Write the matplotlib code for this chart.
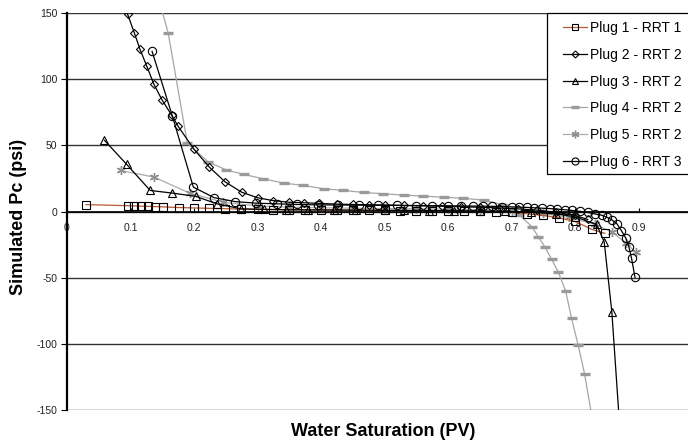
import matplotlib
matplotlib.use("Agg")
import matplotlib.pyplot as plt
from matplotlib.patches import Rectangle

plt.rcParams['font.family'] = ['Liberation Sans', 'DejaVu Sans']
plt.rcParams['axes.unicode_minus'] = False

# Water saturation (PV) and simulated capillary pressure (psi) per plug
plug1_sw = [0.030, 0.096, 0.106, 0.116, 0.127, 0.139, 0.151, 0.176, 0.200, 0.224, 0.249,
            0.274, 0.300, 0.325, 0.350, 0.375, 0.400, 0.425, 0.450, 0.475, 0.500, 0.525,
            0.550, 0.575, 0.600, 0.625, 0.650, 0.675, 0.700, 0.725, 0.750, 0.775, 0.800,
            0.827, 0.847]
plug1_pc = [5.2, 4.4, 4.2, 4.0, 3.9, 3.7, 3.5, 3.0, 2.7, 2.4, 2.1,
            1.8, 1.6, 1.5, 1.4, 1.3, 1.2, 1.1, 1.0, 0.9, 0.8, 0.7,
            0.6, 0.5, 0.4, 0.3, 0.1, -0.2, -0.7, -1.7, -3.0, -4.8, -7.5,
            -13.6, -16.5]

plug2_sw = [0.085, 0.0955, 0.106, 0.115, 0.1255, 0.137, 0.150, 0.165, 0.175, 0.200, 0.224,
            0.249, 0.275, 0.300, 0.324, 0.349, 0.374, 0.397, 0.425, 0.450, 0.475, 0.500,
            0.530, 0.560, 0.590, 0.620, 0.650, 0.680, 0.710, 0.740, 0.770, 0.800, 0.820]
plug2_pc = [163, 149, 135, 122.5, 110, 96, 84, 72.7, 64.4, 47, 33.6,
            22.4, 14.6, 10.4, 8.3, 7.0, 6.6, 6.1, 5.6, 5.3, 5.1, 4.9,
            4.6, 4.3, 4.0, 3.6, 3.2, 2.7, 2.0, 1.0, -0.5, -3.0, -6.0]

plug3_sw = [0.059, 0.094, 0.131, 0.166, 0.203, 0.236, 0.274, 0.310, 0.345, 0.380, 0.420,
            0.455, 0.500, 0.530, 0.570, 0.610, 0.650, 0.690, 0.730, 0.770, 0.800, 0.834,
            0.846, 0.858, 0.880]
plug3_pc = [53.8, 35.6, 15.9, 13.9, 11.4, 5.8, 2.0, 1.6, 1.3, 1.2, 1.1,
            1.0, 0.9, 0.8, 0.7, 0.6, 0.4, 0.1, -0.5, -1.8, -4.0, -9.8,
            -23.0, -75.7, -230.0]

plug4_sw = [0.145, 0.1595, 0.1895, 0.2225, 0.251, 0.279, 0.309, 0.341, 0.372, 0.404, 0.435,
            0.467, 0.498, 0.530, 0.561, 0.593, 0.624, 0.656, 0.687, 0.712, 0.732, 0.742,
            0.753, 0.763, 0.774, 0.7855, 0.7945, 0.805, 0.815, 0.832]
plug4_pc = [160, 134.6, 51.7, 37.4, 31.4, 28.0, 24.7, 21.5, 19.7, 17.2, 15.9,
            14.4, 13.4, 12.4, 11.6, 10.8, 10.0, 8.6, 5.0, -2.5, -11.4, -19.0,
            -27.0, -36.0, -46.0, -60.4, -80.6, -101.0, -122.5, -170.0]

plug5_sw = [0.0845, 0.137, 0.193, 0.246, 0.300, 0.350, 0.400, 0.450, 0.500, 0.550,
            0.600, 0.650, 0.700, 0.750, 0.790, 0.831, 0.859, 0.880, 0.896]
plug5_pc = [31.0, 26.0, 13.9, 7.0, 4.2, 3.3, 2.8, 2.5, 2.2, 2.0,
            1.7, 1.3, 0.5, -1.5, -4.5, -9.5, -15.6, -24.0, -30.8]

plug6_sw = [0.134, 0.166, 0.199, 0.2315, 0.2645, 0.298, 0.330, 0.362, 0.396, 0.427,
            0.460, 0.490, 0.520, 0.550, 0.575, 0.600, 0.620, 0.640, 0.655, 0.670,
            0.685, 0.700, 0.712, 0.724, 0.736, 0.748, 0.760, 0.772, 0.784, 0.796,
            0.808, 0.820, 0.831, 0.842, 0.850, 0.858, 0.866, 0.873, 0.880, 0.885,
            0.889, 0.8945]
plug6_pc = [121, 72, 18.4, 10.5, 7.5, 6.3, 5.8, 5.3, 5.0, 4.9,
            4.8, 4.7, 4.6, 4.5, 4.4, 4.3, 4.2, 4.1, 4.0, 3.9,
            3.7, 3.5, 3.3, 3.1, 2.8, 2.5, 2.2, 1.8, 1.3, 0.8,
            0.1, -0.7, -1.8, -2.8, -4.3, -6.3, -9.3, -14.4, -20.0, -27.0,
            -35.3, -49.7]

labels = ["Plug 1 - RRT 1", "Plug 2 - RRT 2", "Plug 3 - RRT 2",
          "Plug 4 - RRT 2", "Plug 5 - RRT 2", "Plug 6 - RRT 3"]
x_ticks = [0, 0.1, 0.2, 0.3, 0.4, 0.5, 0.6, 0.7, 0.8, 0.9]
x_tick_labels = ["0", "0.1", "0.2", "0.3", "0.4", "0.5", "0.6", "0.7", "0.8", "0.9"]
y_ticks = [-150, -100, -50, 0, 50, 100, 150]

W, H = 688, 447
fig = plt.figure(figsize=(W / 100, H / 100), dpi=100)
ax = fig.add_axes([67 / W, 37 / H, 635 / W, 397 / H])
ax.set_xlim(0, 1.0)
ax.set_ylim(-150, 150)

common = dict(lw=0.9, clip_on=True)
ax.plot(plug1_sw, plug1_pc, color='#B85A30', marker='s', ms=5.2, mfc='none',
        mec='black', mew=0.8, label=labels[0], zorder=3, **common)
ax.plot(plug2_sw, plug2_pc, color='black', marker='D', ms=4.2, mfc='none',
        mec='black', mew=0.8, label=labels[1], zorder=3, **common)
ax.plot(plug3_sw, plug3_pc, color='black', marker='^', ms=5.5, mfc='none',
        mec='black', mew=0.8, label=labels[2], zorder=3, **common)
ax.plot(plug4_sw, plug4_pc, color='#A6A6A6', marker='_', ms=6.5, mew=2.4,
        mec='#9A9A9A', label=labels[3], zorder=2, **common)
ax.plot(plug5_sw, plug5_pc, color='#ABABAB', marker=(6, 2, 0), ms=6.5, mew=1.0,
        mec='#8F8F8F', label=labels[4], zorder=2, **common)
ax.plot(plug6_sw, plug6_pc, color='black', marker='o', ms=6.0, mfc='none',
        mec='black', mew=0.8, label=labels[5], zorder=3, **common)

# Axes styling: x axis crosses at Pc = 0, horizontal grid lines at every y tick
for side in ('top', 'right'):
    ax.spines[side].set_visible(False)
ax.spines['bottom'].set_position(('data', 0))
ax.spines['bottom'].set_linewidth(1.2)
ax.spines['left'].set_linewidth(1.6)
ax.spines['bottom'].set_zorder(4)

ax.set_xticks(x_ticks)
ax.set_xticklabels(x_tick_labels)
ax.set_yticks(y_ticks)
ax.tick_params(axis='x', direction='in', length=3, width=0.8, pad=8,
               labelsize=7.5, labelcolor='#222222')
ax.tick_params(axis='y', direction='out', length=4, width=0.8, pad=3,
               labelsize=7.5, labelcolor='#222222')
ax.yaxis.grid(True, color='#333333', lw=1.0)
ax.set_axisbelow(True)

# Legend with a separate frame box
box = Rectangle((547 / W, 1 - 174 / H), 160 / W, 161 / H, transform=fig.transFigure,
                facecolor='white', edgecolor='black', lw=0.9, zorder=4)
fig.add_artist(box)
leg = fig.legend(loc='upper left', bbox_to_anchor=(563 / W, 1 - 21 / H),
                 frameon=False, fontsize=10, borderpad=0, borderaxespad=0,
                 handlelength=1.75, handletextpad=0.2, labelspacing=0.92,
                 markerscale=0.85)
leg.set_zorder(6)

fig.text(383 / W, 1 - 432 / H, "Water Saturation (PV)", ha='center', va='center',
         fontsize=13, fontweight='bold')
fig.text(19 / W, 1 - 217 / H, "Simulated Pc (psi)", ha='center', va='center',
         fontsize=13, fontweight='bold', rotation=90)

fig.savefig("out.png", dpi=100)
